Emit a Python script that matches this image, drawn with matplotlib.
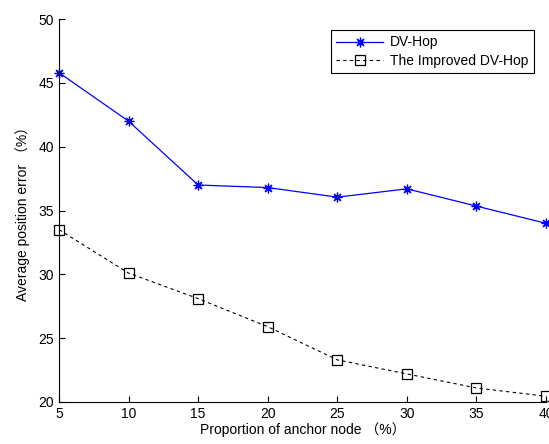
import matplotlib
matplotlib.use('Agg')
import matplotlib.pyplot as plt

plt.rcParams['font.family'] = ['Liberation Sans', 'Noto Sans CJK SC', 'DejaVu Sans']

# proportion of anchor nodes (%)
x = [5, 10, 15, 20, 25, 30, 35, 40]
dv_hop = [45.8, 42.0, 37.0, 36.8, 36.05, 36.7, 35.35, 34.0]
improved = [33.5, 30.1, 28.1, 25.9, 23.3, 22.2, 21.1, 20.45]
xticks = [5, 10, 15, 20, 25, 30, 35, 40]
yticks = [20, 25, 30, 35, 40, 45, 50]

fig = plt.figure(figsize=(5.49, 4.44), dpi=100)
ax = fig.add_axes([0.1075, 0.0946, 0.887, 0.8624])

# matlab style asterisk marker
ax.plot(x, dv_hop, color='#0000ff', lw=0.9, marker=(8, 2, 0), ms=7, mew=0.9,
        label='DV-Hop', clip_on=False)
ax.plot(x, improved, color='black', lw=0.8, ls=(0, (3, 3)), marker='s', ms=6.5,
        mfc='none', mew=0.9, label='The Improved DV-Hop', clip_on=False)

ax.set_xlim(5, 40)
ax.set_ylim(20, 50)
ax.set_xticks(xticks)
ax.set_yticks(yticks)
ax.tick_params(direction='in', length=4, labelsize=10, width=0.8)
ax.spines['top'].set_visible(False)
ax.spines['right'].set_visible(False)
for s in ['left', 'bottom']:
    ax.spines[s].set_linewidth(0.8)

ax.set_xlabel('Proportion of anchor node （%）', fontsize=10, labelpad=1)
ax.set_ylabel('Average position error （%）', fontsize=10, labelpad=6)

leg = ax.legend(loc='upper right', bbox_to_anchor=(0.99, 0.99), fontsize=10,
                fancybox=False, edgecolor='black', framealpha=1,
                handlelength=3.4, handletextpad=0.5, borderpad=0.4,
                labelspacing=0.3)
leg.get_frame().set_linewidth(0.8)

fig.savefig('out.png', dpi=100)
